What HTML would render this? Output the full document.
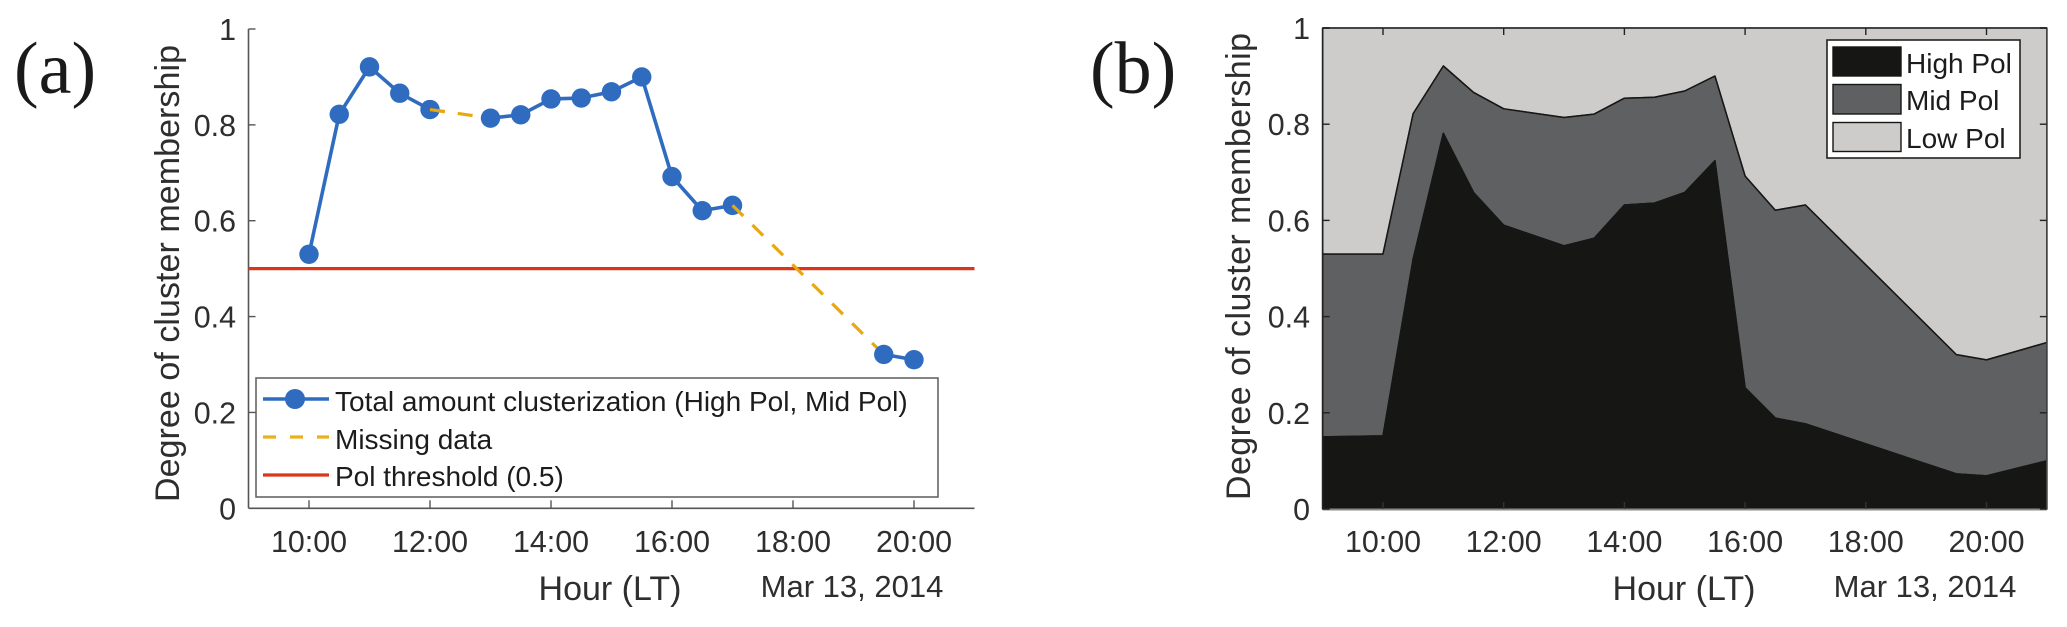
<!DOCTYPE html>
<html lang="en">
<head>
<meta charset="utf-8">
<title>Degree of cluster membership</title>
<style>
html,body{margin:0;padding:0;background:#fff;width:2067px;height:627px;overflow:hidden}
svg{display:block}
text{font-family:"Liberation Sans",sans-serif;fill:#2e2e2e}
.panel{font-family:"Liberation Serif",serif;font-size:74px;fill:#1a1a1a}
.tick{font-size:30.4px}
.title{font-size:34px}
.date{font-size:31px}
.leg{font-size:28px;fill:#1c1c1c}
</style>
</head>
<body>
<svg id="fig" xmlns="http://www.w3.org/2000/svg" width="2067" height="627" viewBox="0 0 2067 627">
  <g id="a">
    <text class="panel" x="14" y="93">(a)</text>
    <text class="title" transform="translate(179,502) rotate(-90)" textLength="457" lengthAdjust="spacing">Degree of cluster membership</text>
    <text class="title" x="610" y="600" text-anchor="middle">Hour (LT)</text>
    <text class="date" x="852" y="597" text-anchor="middle">Mar 13, 2014</text>
    <g id="a-axes"></g>
    <g id="a-plot"></g>
    <g>
      <rect x="256" y="378" width="682" height="119" fill="#fff" stroke="#666" stroke-width="1.6"/>
      <line x1="263" y1="399" x2="329" y2="399" stroke="#2f6cc0" stroke-width="3.5"/>
      <circle cx="295" cy="399" r="10" fill="#2f6cc0"/>
      <text class="leg" x="335" y="411">Total amount clusterization (High Pol, Mid Pol)</text>
      <line x1="263" y1="437" x2="329" y2="437" stroke="#ecb01a" stroke-width="3.2" stroke-dasharray="13 14"/>
      <text class="leg" x="335" y="449">Missing data</text>
      <line x1="263" y1="475" x2="329" y2="475" stroke="#d9371a" stroke-width="3.2"/>
      <text class="leg" x="335" y="486">Pol threshold (0.5)</text>
    </g>
  </g>
  <g id="b">
    <text class="panel" x="1090" y="93">(b)</text>
    <text class="title" transform="translate(1250,500) rotate(-90)" textLength="467" lengthAdjust="spacing">Degree of cluster membership</text>
    <text class="title" x="1684" y="600" text-anchor="middle">Hour (LT)</text>
    <text class="date" x="1925" y="597" text-anchor="middle">Mar 13, 2014</text>
    <g id="b-plot"></g>
    <g id="b-axes"></g>
    <g>
      <rect x="1827" y="40" width="193" height="118" fill="#fff" stroke="#222" stroke-width="1.6"/>
      <rect x="1833" y="47" width="68" height="29" fill="#161615" stroke="#161615" stroke-width="1.4"/>
      <text class="leg" x="1906" y="73">High Pol</text>
      <rect x="1833" y="84.5" width="68" height="29.5" fill="#5f6062" stroke="#161615" stroke-width="1.4"/>
      <text class="leg" x="1906" y="110">Mid Pol</text>
      <rect x="1833" y="122.5" width="68" height="29" fill="#cdccca" stroke="#161615" stroke-width="1.4"/>
      <text class="leg" x="1906" y="148">Low Pol</text>
    </g>
  </g>
</svg>
<script>
// ---- Chart data ----
const yTickValues = [0, 0.2, 0.4, 0.6, 0.8, 1];
const yTickLabels = ["0", "0.2", "0.4", "0.6", "0.8", "1"];
const xTickHours = [10, 12, 14, 16, 18, 20];
const xTickLabels = ["10:00", "12:00", "14:00", "16:00", "18:00", "20:00"];
const polThreshold = 0.5;
// Panel (a): hour of day and total clusterization
const hoursA = [10, 10.5, 11, 11.5, 12, 13, 13.5, 14, 14.5, 15, 15.5, 16, 16.5, 17, 19.5, 20];
const totalClusterization = [0.530, 0.822, 0.921, 0.866, 0.832, 0.814, 0.821, 0.854, 0.856, 0.869, 0.900, 0.692, 0.621, 0.632, 0.321, 0.310];
// Panel (b): stacked membership shares
const hoursB = [9, 10, 10.5, 11, 11.5, 12, 13, 13.5, 14, 14.5, 15, 15.5, 16, 16.5, 17, 19.5, 20, 21];
const highPol = [0.150, 0.152, 0.520, 0.781, 0.658, 0.590, 0.547, 0.563, 0.632, 0.636, 0.658, 0.724, 0.252, 0.189, 0.177, 0.073, 0.069, 0.100];
const midPol = [0.380, 0.378, 0.302, 0.140, 0.208, 0.242, 0.267, 0.258, 0.222, 0.220, 0.211, 0.176, 0.440, 0.432, 0.455, 0.248, 0.241, 0.246];
const lowPol = [0.470, 0.470, 0.178, 0.079, 0.134, 0.168, 0.186, 0.179, 0.146, 0.144, 0.131, 0.100, 0.308, 0.379, 0.368, 0.679, 0.690, 0.654];

// ---- Axis functions ----
const xA = h => 309 + 60.5 * (h - 10);
const yA = v => 508.3 - 479.3 * v;
const xB = h => 1383 + 60.35 * (h - 10);
const yB = v => 509 - 481 * v;

const NS = "http://www.w3.org/2000/svg";
function make(tag, parent, attrs, content) {
  const el = document.createElementNS(NS, tag);
  for (const k in attrs) el.setAttribute(k, attrs[k]);
  if (content !== undefined) el.textContent = content;
  parent.appendChild(el);
  return el;
}

// ---- Panel (a) axes ----
const aAxes = document.getElementById("a-axes");
const aYAxis = make("line", aAxes, {x1: xA(9), y1: yA(1), x2: xA(9), y2: yA(0), stroke: "#555", "stroke-width": 1.6});


const aXAxis = make("line", aAxes, {x1: xA(9), y1: yA(0), x2: xA(21), y2: yA(0), stroke: "#555", "stroke-width": 1.6});


yTickValues.forEach((v, i) => {
  const t = make("line", aAxes, {x1: xA(9), y1: yA(v), x2: xA(9) + 7, y2: yA(v), stroke: "#555", "stroke-width": 1.4});
  
  
  const l = make("text", aAxes, {class: "tick", x: 236, y: yA(v) + 11, "text-anchor": "end"}, yTickLabels[i]);
  
  
});
xTickHours.forEach((h, i) => {
  const t = make("line", aAxes, {x1: xA(h), y1: yA(0), x2: xA(h), y2: yA(0) - 8, stroke: "#555", "stroke-width": 1.4});
  
  
  const l = make("text", aAxes, {class: "tick", x: xA(h), y: 552, "text-anchor": "middle"}, xTickLabels[i]);
  
  
});

// ---- Panel (a) series ----
const aPlot = document.getElementById("a-plot");
const threshold = make("line", aPlot, {x1: xA(9), y1: yA(polThreshold), x2: xA(21), y2: yA(polThreshold), stroke: "#d9371a", "stroke-width": 3.2});


hoursA.forEach((h, i) => {
  if (i === 0) return;
  const gap = h - hoursA[i - 1] > 0.5;
  const seg = make("line", aPlot, {
    x1: xA(hoursA[i - 1]), y1: yA(totalClusterization[i - 1]),
    x2: xA(h), y2: yA(totalClusterization[i]),
    stroke: gap ? "#e8a90f" : "#2f6cc0",
    "stroke-width": gap ? 3.2 : 3.6
  });
  if (gap) seg.setAttribute("stroke-dasharray", "15 13");
  
  
});
const aPoints = make("g", aPlot, {});


hoursA.forEach((h, i) => {
  const p = make("circle", aPoints, {cx: xA(h), cy: yA(totalClusterization[i]), r: 9.7, fill: "#2f6cc0"});
  
  
});
// the dashed line starts on top of the markers it leaves
hoursA.forEach((h, i) => {
  if (i === 0 || h - hoursA[i - 1] <= 0.5) return;
  const over = make("line", aPlot, {
    x1: xA(hoursA[i - 1]), y1: yA(totalClusterization[i - 1]),
    x2: xA(h), y2: yA(totalClusterization[i]),
    stroke: "#e8a90f", "stroke-width": 3.2, "stroke-dasharray": "15 1000"
  });
  
  
});

// ---- Panel (b) stacked areas ----
const bPlot = document.getElementById("b-plot");
const cumHigh = highPol.slice();
const cumMid = highPol.map((v, i) => v + midPol[i]);
const cumLow = cumMid.map((v, i) => v + lowPol[i]);
function band(upper, lower, fill) {
  const top = hoursB.map((h, i) => xB(h) + "," + yB(upper[i]));
  const bottom = hoursB.map((h, i) => xB(h) + "," + yB(lower ? lower[i] : 0)).reverse();
  return make("polygon", bPlot, {points: top.concat(bottom).join(" "), fill: fill, stroke: "#161615", "stroke-width": 1.5, "stroke-linejoin": "round"});
}
const lowArea = band(cumLow, cumMid, "#cdccca");


const midArea = band(cumMid, cumHigh, "#5f6062");


const highArea = band(cumHigh, null, "#161615");



// ---- Panel (b) axes ----
const bAxes = document.getElementById("b-axes");
const bTop = make("line", bAxes, {x1: xB(9), y1: yB(1), x2: xB(21), y2: yB(1), stroke: "#444", "stroke-width": 2});


const bRight = make("line", bAxes, {x1: xB(21), y1: yB(1), x2: xB(21), y2: yB(0), stroke: "#444", "stroke-width": 1.6});


const bLeft = make("line", bAxes, {x1: xB(9), y1: yB(1), x2: xB(9), y2: yB(0), stroke: "#222", "stroke-width": 1.6});


const bBottom = make("line", bAxes, {x1: xB(9), y1: yB(0) + 0.5, x2: xB(21), y2: yB(0) + 0.5, stroke: "#8a8a8a", "stroke-width": 2});


yTickValues.forEach((v, i) => {
  const t1 = make("line", bAxes, {x1: xB(9), y1: yB(v), x2: xB(9) + 7, y2: yB(v), stroke: "#222", "stroke-width": 1.4});
  
  
  const t2 = make("line", bAxes, {x1: xB(21), y1: yB(v), x2: xB(21) - 7, y2: yB(v), stroke: "#222", "stroke-width": 1.4});
  
  
  const l = make("text", bAxes, {class: "tick", x: 1310, y: yB(v) + 11, "text-anchor": "end"}, yTickLabels[i]);
  
  
});
xTickHours.forEach((h, i) => {
  const t1 = make("line", bAxes, {x1: xB(h), y1: yB(1), x2: xB(h), y2: yB(1) + 7, stroke: "#222", "stroke-width": 1.4});
  
  
  const t2 = make("line", bAxes, {x1: xB(h), y1: yB(0), x2: xB(h), y2: yB(0) - 7, stroke: "#333", "stroke-width": 1.4});
  
  
  const l = make("text", bAxes, {class: "tick", x: xB(h), y: 552, "text-anchor": "middle"}, xTickLabels[i]);
  
  
});
</script>
</body>
</html>
